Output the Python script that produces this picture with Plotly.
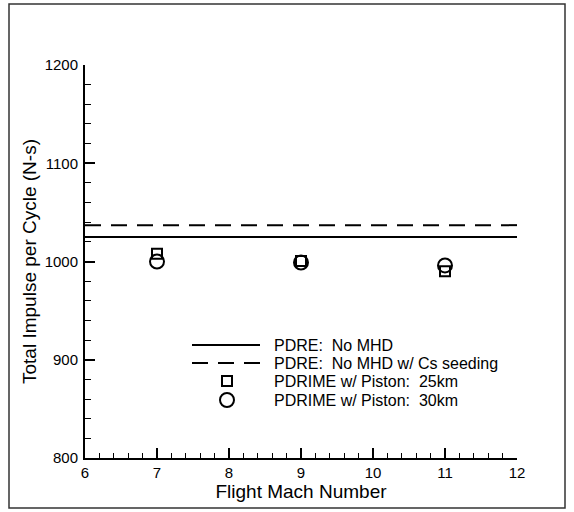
import plotly.graph_objects as go

# ---- data ----
line_x = [6, 12]
pdre_no_mhd = [1025, 1025]
pdre_cs_seeding = [1037, 1037]

mach = [7, 9, 11]
piston_25km = [1008, 1000.5, 990]
piston_30km = [1000, 999, 996]

legend_labels = [
    "PDRE:  No MHD",
    "PDRE:  No MHD w/ Cs seeding",
    "PDRIME w/ Piston:  25km",
    "PDRIME w/ Piston:  30km",
]

x_ticks = [6, 7, 8, 9, 10, 11, 12]
y_ticks = [800, 900, 1000, 1100, 1200]

FONT = "Liberation Sans, Arial, sans-serif"

W, H = 574, 512
L, R, T, B = 85, 57, 65, 54
PW, PH = W - L - R, H - T - B


def px2paper_x(px):
    return (px - L) / PW


def px2paper_y(py):
    return (H - B - py) / PH


fig = go.Figure()

fig.add_trace(go.Scatter(x=line_x, y=pdre_no_mhd, mode="lines",
                         line=dict(color="black", width=2),
                         name=legend_labels[0], showlegend=False))
fig.add_trace(go.Scatter(x=line_x, y=pdre_cs_seeding, mode="lines",
                         line=dict(color="black", width=2, dash="16px,10px"),
                         name=legend_labels[1], showlegend=False))
fig.add_trace(go.Scatter(x=mach, y=piston_25km, mode="markers",
                         marker=dict(symbol="square-open", size=10, color="black",
                                     line=dict(width=2, color="black")),
                         name=legend_labels[2], showlegend=False))
fig.add_trace(go.Scatter(x=mach, y=piston_30km, mode="markers",
                         marker=dict(symbol="circle-open", size=14, color="black",
                                     line=dict(width=2, color="black")),
                         name=legend_labels[3], showlegend=False))

# ---- manual legend ----
rows_py = [345, 363, 381, 400]
sw_x0, sw_x1, sw_xc, txt_x = 192, 260, 227, 272
shapes = []
shapes.append(dict(type="line", xref="paper", yref="paper",
                   x0=px2paper_x(sw_x0), x1=px2paper_x(sw_x1),
                   y0=px2paper_y(rows_py[0]), y1=px2paper_y(rows_py[0]),
                   line=dict(color="black", width=2)))
shapes.append(dict(type="line", xref="paper", yref="paper",
                   x0=px2paper_x(sw_x0), x1=px2paper_x(sw_x1),
                   y0=px2paper_y(rows_py[1]), y1=px2paper_y(rows_py[1]),
                   line=dict(color="black", width=2, dash="16px,10px")))
shapes.append(dict(type="rect", xref="paper", yref="paper",
                   xsizemode="pixel", ysizemode="pixel",
                   xanchor=px2paper_x(sw_xc), yanchor=px2paper_y(rows_py[2]),
                   x0=-5, x1=5, y0=-5, y1=5,
                   line=dict(color="black", width=2)))
shapes.append(dict(type="circle", xref="paper", yref="paper",
                   xsizemode="pixel", ysizemode="pixel",
                   xanchor=px2paper_x(sw_xc), yanchor=px2paper_y(rows_py[3]),
                   x0=-7, x1=7, y0=-7, y1=7,
                   line=dict(color="black", width=2)))
# outer frame
shapes.append(dict(type="rect", xref="paper", yref="paper",
                   x0=px2paper_x(9), x1=px2paper_x(565),
                   y0=px2paper_y(508), y1=px2paper_y(4),
                   line=dict(color="#333333", width=1.5), layer="below"))

annotations = []
for lab, py in zip(legend_labels, rows_py):
    annotations.append(dict(text=lab, xref="paper", yref="paper",
                            x=px2paper_x(txt_x), y=px2paper_y(py),
                            xanchor="left", yanchor="middle", showarrow=False,
                            font=dict(family=FONT, size=16, color="black")))

fig.update_layout(
    width=W, height=H,
    margin=dict(l=L, r=R, t=T, b=B, pad=0),
    paper_bgcolor="white", plot_bgcolor="white",
    font=dict(family=FONT, color="black"),
    shapes=shapes, annotations=annotations,
    showlegend=False,
)

fig.update_xaxes(
    range=[6, 12], tickvals=x_ticks, ticktext=[str(v) for v in x_ticks],
    showline=True, linecolor="black", linewidth=2, mirror=False,
    showgrid=False, zeroline=False,
    ticks="inside", ticklen=10, tickwidth=2, tickcolor="black",
    minor=dict(dtick=0.2, ticks="inside", ticklen=5, tickwidth=1, tickcolor="black", showgrid=False),
    tickfont=dict(family=FONT, size=15, color="black"),
    title=dict(text="Flight Mach Number", font=dict(family=FONT, size=19, color="black"), standoff=0),
    ticklabelstandoff=0,
)
fig.update_yaxes(
    range=[800, 1200], tickvals=y_ticks, ticktext=[str(v) for v in y_ticks],
    showline=True, linecolor="black", linewidth=2, mirror=False,
    showgrid=False, zeroline=False,
    ticks="inside", ticklen=10, tickwidth=2, tickcolor="black",
    minor=dict(dtick=20, ticks="inside", ticklen=6, tickwidth=1, tickcolor="black", showgrid=False),
    tickfont=dict(family=FONT, size=15, color="black"),
    title=dict(text="Total Impulse per Cycle (N-s)", font=dict(family=FONT, size=19, color="black"), standoff=3),
    ticklabelstandoff=2,
)

fig.write_html("out.html")
